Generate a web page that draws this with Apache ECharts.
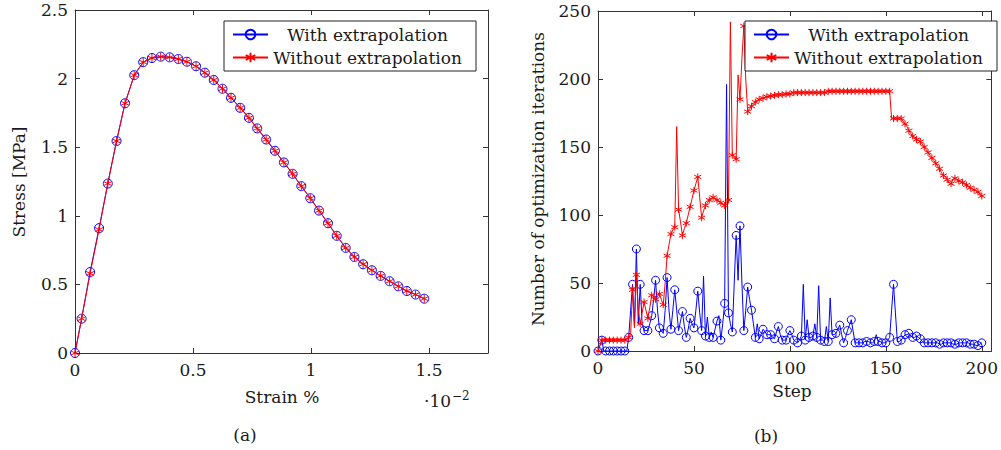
<!DOCTYPE html>
<html><head><meta charset="utf-8">
<script src="https://cdn.jsdelivr.net/npm/echarts@6/dist/echarts.min.js"></script>
<style>html,body{margin:0;padding:0;background:#fff}#c{width:1001px;height:450px}</style>
</head><body><div id="c"></div>
<script>
// ---- (a) Stress vs strain (strain in units of 1e-2 %) ----
const strain = [0, 0.028, 0.064, 0.102, 0.139, 0.176, 0.212, 0.251, 0.289, 0.326, 0.363, 0.401, 0.438, 0.474, 0.513, 0.55, 0.588, 0.625, 0.661, 0.70, 0.737, 0.772, 0.81, 0.847, 0.885, 0.922, 0.959, 0.997, 1.034, 1.072, 1.109, 1.147, 1.184, 1.221, 1.258, 1.295, 1.333, 1.37, 1.406, 1.443, 1.48];
const stressWith = [0, 0.25, 0.59, 0.91, 1.235, 1.545, 1.82, 2.025, 2.12, 2.15, 2.16, 2.155, 2.143, 2.123, 2.09, 2.043, 1.99, 1.926, 1.86, 1.787, 1.714, 1.637, 1.556, 1.474, 1.389, 1.306, 1.216, 1.128, 1.038, 0.946, 0.854, 0.766, 0.70, 0.647, 0.603, 0.562, 0.523, 0.486, 0.452, 0.426, 0.396];
const stressWithout = [0, 0.25, 0.58, 0.90, 1.235, 1.545, 1.82, 2.025, 2.12, 2.15, 2.16, 2.155, 2.143, 2.123, 2.09, 2.043, 1.99, 1.926, 1.86, 1.787, 1.714, 1.637, 1.556, 1.474, 1.389, 1.306, 1.216, 1.128, 1.038, 0.946, 0.854, 0.766, 0.70, 0.647, 0.603, 0.562, 0.523, 0.486, 0.452, 0.426, 0.396];

// ---- (b) Number of optimization iterations per step (steps 0..200) ----
const iterWith = [
  0,4,8,0,0,0,0,0,0,0,
  0,0,0,0,0,0,10,30,49,18,
  75,20,49,20,15,15,15,20,26,38,
  52,30,17,15,13,30,54,30,16,30,
  45,30,15,22,29,18,10,16,24,20,
  17,30,44,28,15,55,11,25,10,14,
  10,16,22,26,8,20,35,196,28,20,
  14,50,85,52,92,50,15,30,47,38,
  30,20,10,20,9,12,16,14,12,12,
  12,10,9,14,18,12,8,8,8,12,
  15,12,8,7,6,8,11,49,8,23,
  10,10,11,20,10,48,8,8,7,18,
  7,39,12,12,13,16,19,12,6,10,
  15,19,23,14,6,6,6,6,6,7,
  7,7,6,6,7,12,7,7,6,6,
  6,8,10,30,49,28,7,7,8,10,
  12,12,13,11,10,10,11,10,9,7,
  6,6,6,6,6,6,6,6,5,5,
  6,6,6,6,6,5,5,5,6,6,
  6,6,6,6,5,5,5,4,4,5,
  6];
const iterWithout = [
  0,4,8,8,8,8,8,8,8,8,
  8,8,8,8,8,9,10,12,45,17,
  56,30,20,28,36,30,24,32,41,40,
  38,40,42,38,34,50,70,78,86,89,
  91,165,104,95,85,90,94,100,106,112,
  118,123,128,113,98,103,107,109,111,112,
  113,112,111,110,109,108,107,109,111,242,
  144,143,141,203,185,215,239,200,176,178,
  180,181.5,183,184,185,185.5,186,186.5,187,187,
  187.5,187.5,188,188,188.5,188.5,188.5,189,189,189,
  189,190,190,190,190,190,190,190,190,190,
  190,190,190,190,190,190,190,190,190,190,
  191,191,191,191,191,191,191,191,191,191,
  191,191,191,191,191,191,191,191,191,191,
  191,191,191,191,191,191,191,191,191,191,
  191,191,191,171,171,171,171,171,171,169,
  167,165,162,160,158,156.5,155.5,155,154,152,
  150,148,146,144,142,140,138,136,134,131,
  129,128.5,126,124,123,126,127,126,125,124.5,
  124,123.5,122,121,120,119,118.5,118,117,115.5,
  114];

const xTicksA = [0, 0.5, 1, 1.5];
const xTicksB = [0, 50, 100, 150, 200];
const seriesNames = ['With extrapolation', 'Without extrapolation'];

const FONT = 'DejaVu Serif';
const TXT = '#1a1a1a';
const AX = '#333';
const BLUE = '#0000ff', RED = '#ff0000';
const ASTERISK = 'path://M0,-1L0,1M-0.866,-0.5L0.866,0.5M-0.866,0.5L0.866,-0.5';

function xAx(grid, pos, max, ticks, labels) {
  return {
    type: 'value', gridIndex: grid, position: pos, min: 0, max: max,
    axisLine: {show: true, onZero: false, lineStyle: {color: AX, width: 1}},
    axisTick: {show: true, inside: true, length: 5, customValues: ticks, lineStyle: {color: AX}},
    axisLabel: {show: labels, customValues: ticks, margin: 8, color: TXT, fontFamily: FONT, fontSize: 17},
    splitLine: {show: false}
  };
}
function yAx(grid, pos, max, interval, labels) {
  return {
    type: 'value', gridIndex: grid, position: pos, min: 0, max: max, interval: interval,
    axisLine: {show: true, onZero: false, lineStyle: {color: AX, width: 1}},
    axisTick: {show: true, inside: true, length: 5, lineStyle: {color: AX}},
    axisLabel: {show: labels, margin: 7, color: TXT, fontFamily: FONT, fontSize: 17},
    splitLine: {show: false}
  };
}
function blueSeries(xi, data, size) {
  return {
    name: seriesNames[0], type: 'line', xAxisIndex: xi, yAxisIndex: xi, data: data,
    symbol: 'circle', symbolSize: size, showAllSymbol: true,
    itemStyle: {color: 'rgba(0,0,0,0)', borderColor: BLUE, borderWidth: 1},
    lineStyle: {color: BLUE, width: 1}, emphasis: {disabled: true}, z: 2
  };
}
function redSeries(xi, data, size) {
  return {
    name: seriesNames[1], type: 'line', xAxisIndex: xi, yAxisIndex: xi, data: data,
    symbol: ASTERISK, symbolSize: size, showAllSymbol: true,
    itemStyle: {color: RED, borderColor: RED, borderWidth: 1},
    lineStyle: {color: RED, width: 1}, emphasis: {disabled: true}, z: 3
  };
}
function legendAt(left) {
  return {
    left: left, top: 21, orient: 'vertical', data: seriesNames, selectedMode: false,
    itemWidth: 35, itemHeight: 12, itemGap: 6, padding: [5, 14, 5, 8],
    borderColor: '#222', borderWidth: 1, backgroundColor: '#fff',
    formatter: n => '{c|' + n + '}',
    textStyle: {rich: {c: {width: 189, align: 'center', fontFamily: FONT, fontSize: 17, color: TXT, lineHeight: 20}}}
  };
}

const pairA = (arr) => strain.map((x, i) => [x, arr[i]]);
const pairB = (arr) => arr.map((v, i) => (i % 2 ? {value: [i, v], symbol: 'none'} : [i, v]));

const txt = (x, y, text, extra) => Object.assign({
  type: 'text', x: x, y: y,
  style: {text: text, fill: TXT, font: '17px "' + FONT + '"', textAlign: 'center', textVerticalAlign: 'middle'}
}, extra || {});

const option = {
  animation: false,
  backgroundColor: '#fff',
  grid: [
    {left: 75, top: 10, width: 413, height: 343},
    {left: 598, top: 11, width: 400, height: 340}
  ],
  xAxis: [
    xAx(0, 'bottom', 1.75, xTicksA, true), xAx(0, 'top', 1.75, xTicksA, false),
    xAx(1, 'bottom', 205, xTicksB, true), xAx(1, 'top', 205, xTicksB, false)
  ],
  yAxis: [
    yAx(0, 'left', 2.5, 0.5, true), yAx(0, 'right', 2.5, 0.5, false),
    yAx(1, 'left', 250, 50, true), yAx(1, 'right', 250, 50, false)
  ],
  legend: [legendAt(224), legendAt(745)],
  series: [
    blueSeries(0, pairA(stressWith), 9),
    redSeries(0, pairA(stressWithout), 8),
    blueSeries(2, pairB(iterWith), 8),
    redSeries(2, pairB(iterWithout), 7)
  ],
  graphic: [
    txt(19, 182, 'Stress [MPa]', {rotation: Math.PI / 2}),
    txt(282, 397, 'Strain %'),
    {type: 'text', x: 424, y: 401, style: {
      text: '·10{s|−2}', fill: TXT, font: '17px "' + FONT + '"', textAlign: 'left', textVerticalAlign: 'middle',
      rich: {s: {fontSize: 12, fontFamily: FONT, fill: TXT, padding: [0, 0, 10, 1]}}
    }},
    txt(245, 435, '(a)'),
    txt(538, 179, 'Number of optimization iterations', {rotation: Math.PI / 2}),
    txt(792, 391, 'Step'),
    txt(766, 436, '(b)')
  ]
};

const chart = echarts.init(document.getElementById('c'), null, {renderer: 'svg', width: 1001, height: 450});
chart.setOption(option);
</script>
</body></html>
